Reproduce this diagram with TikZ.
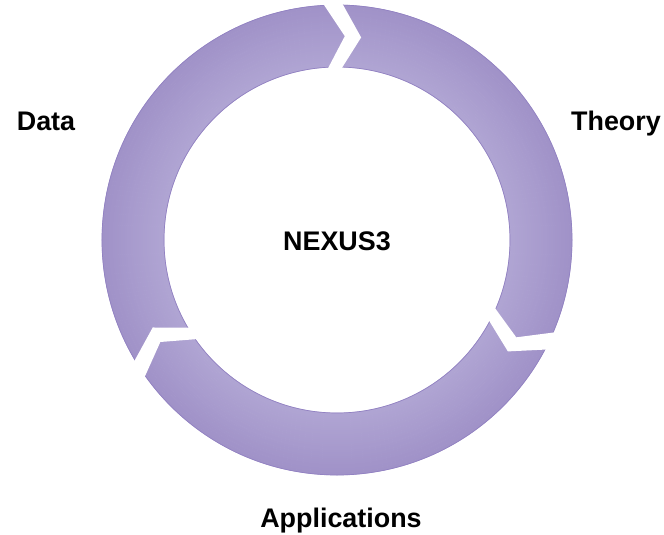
\documentclass[tikz,border=0pt]{standalone}
\usepackage{fontspec}
\setmainfont{Liberation Sans}
\usetikzlibrary{positioning,calc}

\definecolor{ringlight}{HTML}{B0A5D3}
\definecolor{ringdark}{HTML}{A092C8}
\definecolor{ringedge}{HTML}{9282C2}

\tikzset{
  cyclabel/.style={font=\bfseries\fontsize{15.3}{18}\selectfont, inner sep=0pt, anchor=base},
  cycedge/.style={draw=ringedge, line width=0.4pt},
  cycgap/.style={fill=white, draw=none},
}
\newcommand{\ringout}{4.7}
\newcommand{\ringin}{3.46}
\newcommand{\ringmid}{4.08}

\begin{document}
\begin{tikzpicture}
  \useasboundingbox (-6.74,-5.88) rectangle (6.54,4.8);
  % the cycle ring, light on the inside and darker outwards
  \foreach \i in {0,...,30}{
    \pgfmathsetmacro\rr{\ringin+(\i+0.5)*(\ringout-\ringin)/31}
    \pgfmathsetmacro\pp{100*\i/30}
    \draw[ringdark!\pp!ringlight, line width=0.05cm] (0,0) circle (\rr);
  }
  \draw[cycedge] (0,0) circle (\ringout) (0,0) circle (\ringin);
  % chevron cuts between the three arrows
  \foreach \b in {93.8,-22.5,-144}{
    \fill[cycgap] ({\b}:{\ringout+0.1}) -- ({\b-6}:{\ringmid}) -- ({\b}:{\ringin-0.1})
      -- ({\b-4.6}:{\ringin-0.1}) -- ({\b-10.6}:{\ringmid}) -- ({\b-4.6}:{\ringout+0.1}) -- cycle;
  }
  \node[cyclabel] (nexus) at (0,-0.2) {NEXUS3};
  \node[cyclabel] (data) at (-5.82,2.18) {Data};
  \node[cyclabel] (theory) at (5.58,2.18) {Theory};
  \node[cyclabel] (apps) at (0.08,-5.74) {Applications};
\end{tikzpicture}
\end{document}
